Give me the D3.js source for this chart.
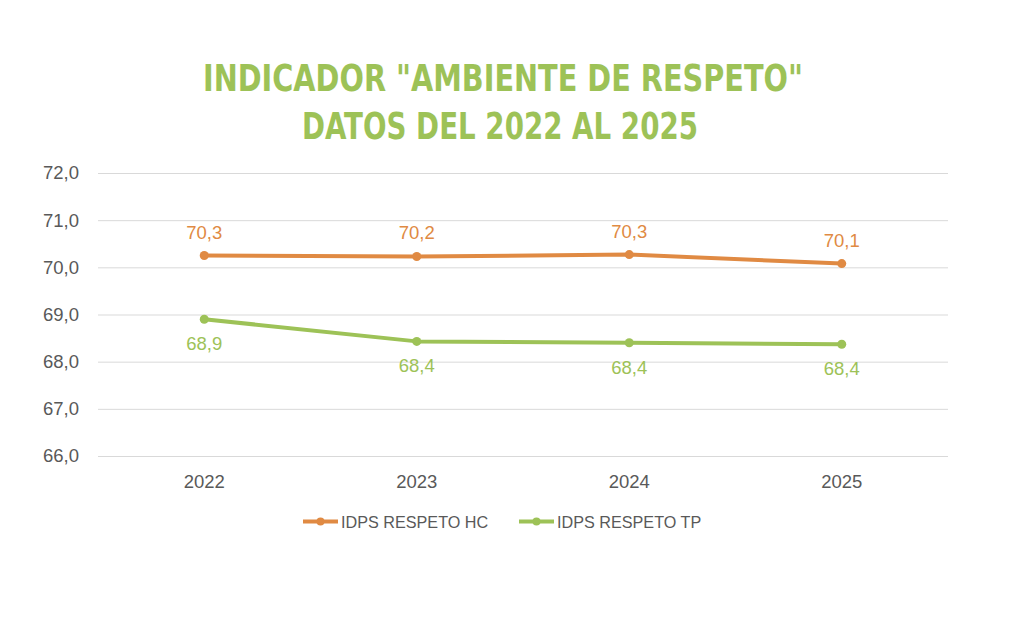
<!DOCTYPE html>
<html><head><meta charset="utf-8">
<script src="https://cdn.jsdelivr.net/npm/d3@7"></script>
<style>body{margin:0;background:#fff;}svg{display:block;}</style>
</head><body>
<svg id="c" width="1024" height="630"></svg>
<script>
const years = ["2022","2023","2024","2025"];
const hcValues = [70.25, 70.23, 70.27, 70.08];
const tpValues = [68.9, 68.43, 68.4, 68.37];
const hcLabels = ["70,3","70,2","70,3","70,1"];
const tpLabels = ["68,9","68,4","68,4","68,4"];
const yTicks = [66,67,68,69,70,71,72];
const seriesNames = ["IDPS RESPETO HC","IDPS RESPETO TP"];
const titleLines = ['INDICADOR "AMBIENTE DE RESPETO"', 'DATOS DEL 2022 AL 2025'];

const orange = "#E08A43", green = "#9DC257", gray = "#595959";
const font = "'Liberation Sans',Arial,sans-serif";
const svg = d3.select("#c");
const x = d3.scaleBand().domain(years).range([98, 948]);
const y = d3.scaleLinear().domain([66,72]).range([456, 173]);

// title
const tPos = [{cx:503, w:600, y:91},{cx:500, w:396, y:138.5}];
svg.selectAll("text.title").data(titleLines).enter().append("text")
  .attr("x", (d,i)=>tPos[i].cx).attr("y", (d,i)=>tPos[i].y)
  .attr("text-anchor","middle")
  .attr("font-family","'DejaVu Sans Condensed','Liberation Sans Narrow',sans-serif")
  .attr("font-stretch","condensed")
  .attr("font-weight","bold").attr("font-size",37)
  .attr("fill", green)
  .attr("textLength",(d,i)=>tPos[i].w).attr("lengthAdjust","spacingAndGlyphs")
  .text(d=>d);

// grid + y axis
const yAxis = d3.axisLeft(y).tickValues(yTicks).tickSize(-(948-98))
  .tickFormat(d=>d3.format(".1f")(d).replace(".",","));
const ga = svg.append("g").attr("transform","translate(98,0)").call(yAxis);
ga.select(".domain").remove();
ga.selectAll(".tick line").attr("stroke","#d9d9d9").attr("stroke-width",1);
ga.selectAll(".tick text").attr("fill",gray).attr("font-size",18.5)
  .attr("font-family",font).attr("x",-19);

// x axis
const xAxis = d3.axisBottom(x).tickSize(0);
const gx = svg.append("g").attr("transform","translate(0,456)").call(xAxis);
gx.select(".domain").remove();
gx.selectAll(".tick text").attr("fill",gray).attr("font-size",18.5)
  .attr("font-family",font).attr("y",32).attr("dy",0);

const cx = d => x(d)+x.bandwidth()/2;
const line = d3.line().x(d=>cx(d.year)).y(d=>y(d.v));

function drawSeries(vals, labels, color, above){
  const data = years.map((yr,i)=>({year:yr, v:vals[i], l:labels[i]}));
  svg.append("path").datum(data).attr("d",line).attr("fill","none")
    .attr("stroke",color).attr("stroke-width",4).attr("stroke-linejoin","round");
  svg.selectAll(null).data(data).enter().append("circle")
    .attr("cx",d=>cx(d.year)).attr("cy",d=>y(d.v)).attr("r",4.5).attr("fill",color);
  svg.selectAll(null).data(data).enter().append("text")
    .attr("x",d=>cx(d.year)).attr("y",d=>y(d.v)+(above?-17:31))
    .attr("text-anchor","middle").attr("fill",color).attr("font-size",18.5)
    .attr("font-family",font)
    .text(d=>d.l);
}
drawSeries(hcValues, hcLabels, orange, true);
drawSeries(tpValues, tpLabels, green, false);

// legend
const legend = [{n:seriesNames[0],c:orange,x:303},{n:seriesNames[1],c:green,x:519}];
const lg = svg.selectAll(null).data(legend).enter().append("g")
  .attr("transform",d=>`translate(${d.x},521.5)`);
lg.append("line").attr("x1",0).attr("x2",35).attr("stroke",d=>d.c).attr("stroke-width",4);
lg.append("circle").attr("cx",17.5).attr("r",4).attr("fill",d=>d.c);
lg.append("text").attr("x",38).attr("y",6).attr("fill",gray).attr("font-size",16.2)
  .attr("font-family",font).text(d=>d.n);
</script>
</body></html>
